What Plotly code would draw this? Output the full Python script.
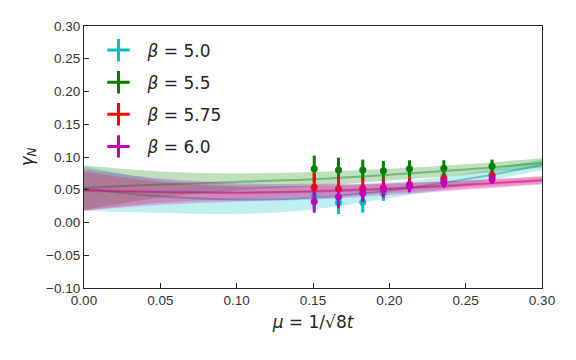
import plotly.graph_objects as go

# flow-time points, mu = 1/sqrt(8t)
mu = [0.1508, 0.1667, 0.1826, 0.1961, 0.2132, 0.2357, 0.2673]

labels = ["<i>β</i> = 5.0", "<i>β</i> = 5.5", "<i>β</i> = 5.75", "<i>β</i> = 6.0"]
colors = ["#00bfbf", "#008000", "#ff0000", "#bf00bf"]
fills = ["rgba(0,191,191,0.25)", "rgba(0,128,0,0.25)", "rgba(255,0,0,0.22)", "rgba(191,0,191,0.25)"]
lines = ["rgba(0,150,150,0.45)", "rgba(0,128,0,0.4)", "rgba(230,0,0,0.35)", "rgba(191,0,191,0.35)"]

y_b50 = [0.040, 0.030, 0.031, 0.045, 0.056, 0.070, 0.073]
e_b50 = [0.018, 0.017, 0.016, 0.012, 0.010, 0.008, 0.006]
y_b55 = [0.082, 0.080, 0.080, 0.079, 0.082, 0.083, 0.086]
e_b55 = [0.020, 0.019, 0.016, 0.015, 0.013, 0.012, 0.010]
y_b575 = [0.054, 0.051, 0.052, 0.053, 0.058, 0.066, 0.071]
e_b575 = [0.021, 0.019, 0.016, 0.013, 0.011, 0.008, 0.007]
y_b60 = [0.032, 0.039, 0.045, 0.050, 0.055, 0.061, 0.066]
e_b60 = [0.017, 0.017, 0.014, 0.012, 0.009, 0.008, 0.007]

mu_fit = [0.0, 0.05, 0.10, 0.15, 0.20, 0.25, 0.30]
fit_b50 = [0.052, 0.040, 0.035, 0.038, 0.049, 0.066, 0.088]
err_b50 = [0.034, 0.025, 0.022, 0.018, 0.012, 0.009, 0.008]
fit_b55 = [0.053, 0.058, 0.062, 0.066, 0.073, 0.081, 0.091]
err_b55 = [0.034, 0.020, 0.013, 0.011, 0.009, 0.008, 0.007]
fit_b575 = [0.048, 0.046, 0.045, 0.048, 0.052, 0.058, 0.065]
err_b575 = [0.030, 0.016, 0.010, 0.008, 0.007, 0.006, 0.006]
fit_b60 = [0.050, 0.047, 0.046, 0.047, 0.051, 0.057, 0.064]
err_b60 = [0.032, 0.020, 0.014, 0.012, 0.009, 0.007, 0.006]

ys = [y_b50, y_b55, y_b575, y_b60]
es = [e_b50, e_b55, e_b575, e_b60]
fits = [fit_b50, fit_b55, fit_b575, fit_b60]
ferrs = [err_b50, err_b55, err_b575, err_b60]

fig = go.Figure()

for i in range(4):
    hi = [f + e for f, e in zip(fits[i], ferrs[i])]
    lo = [f - e for f, e in zip(fits[i], ferrs[i])]
    fig.add_trace(go.Scatter(x=mu_fit, y=hi, mode="lines", line=dict(width=0, shape="spline"),
                             showlegend=False, hoverinfo="skip"))
    fig.add_trace(go.Scatter(x=mu_fit, y=lo, mode="lines", line=dict(width=0, shape="spline"),
                             fill="tonexty", fillcolor=fills[i], showlegend=False, hoverinfo="skip"))
    fig.add_trace(go.Scatter(x=mu_fit, y=fits[i], mode="lines",
                             line=dict(color=lines[i], width=2, shape="spline"),
                             showlegend=False, hoverinfo="skip"))

for i in range(4):
    fig.add_trace(go.Scatter(x=mu, y=ys[i], mode="markers",
                             marker=dict(color=colors[i], size=7),
                             error_y=dict(type="data", array=es[i], color=colors[i], thickness=3, width=0),
                             showlegend=False))

# legend entries with errorbar-like crosses
for i in range(4):
    fig.add_trace(go.Scatter(x=[None], y=[None], mode="markers", name=labels[i],
                             legendgroup=labels[i],
                             marker=dict(symbol="cross-thin", size=18, color=colors[i],
                                         line=dict(color=colors[i], width=3))))

axis_common = dict(showline=True, linecolor="#262626", linewidth=1.2, mirror=True,
                   ticks="inside", ticklen=5, tickcolor="#262626", showgrid=False,
                   zeroline=False, tickfont=dict(family="Liberation Sans", size=13.5, color="#333333"))

fig.update_xaxes(range=[0, 0.3], dtick=0.05, tickformat=".2f",
                 title=dict(text="<i>μ</i> = 1/√8<i>t</i>", font=dict(family="DejaVu Sans", size=17, color="#262626"),
                            standoff=8), **axis_common)
fig.update_yaxes(range=[-0.1, 0.3], dtick=0.05, tickformat=".2f",
                 title=dict(text="<i>γ</i><sub><i>N</i></sub>", font=dict(family="DejaVu Sans", size=17, color="#262626"),
                            standoff=8), **axis_common)

fig.update_layout(
    width=576, height=360,
    margin=dict(l=76, r=42, t=18, b=80),
    plot_bgcolor="white", paper_bgcolor="white",
    legend=dict(x=0.012, y=0.975, xanchor="left", yanchor="top", bgcolor="rgba(0,0,0,0)",
                font=dict(family="DejaVu Sans", size=17, color="#262626"),
                tracegroupgap=7, itemwidth=48),
)

fig.write_html("out.html")
